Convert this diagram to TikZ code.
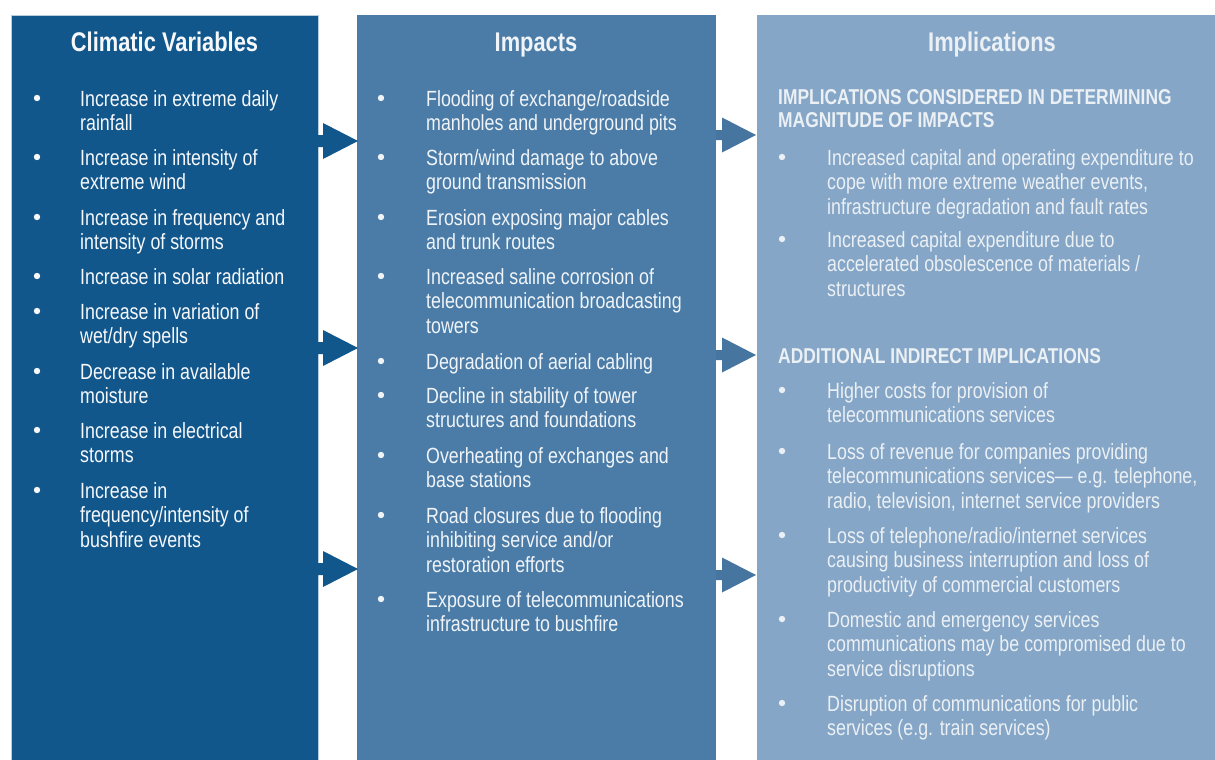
\documentclass[tikz,border=0pt]{standalone}
\usepackage{fontspec}
\setmainfont{Liberation Sans}[FakeStretch=0.81]
\definecolor{cA}{HTML}{12578C}
\definecolor{cB}{HTML}{4A7CA7}
\definecolor{cC}{HTML}{85A6C6}
\definecolor{tA}{HTML}{F6F8FB}
\definecolor{tB}{HTML}{F0F4F8}
\definecolor{tC}{HTML}{EBF0F5}
\newcommand\ml[1]{\vtop{\baselineskip=24.5pt\lineskiplimit=-20pt\let\\\cr\halign{##\hfil\cr#1\crcr}}}
\newcommand\mlh[1]{\vtop{\baselineskip=23.5pt\lineskiplimit=-20pt\let\\\cr\halign{##\hfil\cr#1\crcr}}}
\newcommand\bitem[6]{\fill[#6] (#3,#4-8) circle (3.2pt); \node[txt,text=#6] (#1) at (#2,#4) {\ml{#5}};}
\begin{document}
\begin{tikzpicture}[x=1pt,y=-1pt,
  panel/.style={rectangle, anchor=north west, inner sep=0pt},
  txt/.style={anchor=base west, inner sep=0pt, font=\fontsize{22}{24.5}\selectfont},
  head/.style={anchor=base, inner sep=0pt, font=\bfseries\fontsize{27}{30}\selectfont},
  subhead/.style={anchor=base west, inner sep=0pt, text=tC, font=\bfseries\fontsize{21.5}{23.5}\selectfont},
  arA/.style={fill=cA},
  arB/.style={fill=cB!95!black}]
\useasboundingbox (0,0) rectangle (1215,760);
\fill[white] (0,0) rectangle (1215,760);
% panels
\node[panel, fill=cA, draw=cA!30!white, line width=0.7pt, minimum width=307pt, minimum height=746pt] (p1) at (11,15) {};
\node[panel, fill=cB, minimum width=359pt, minimum height=746pt] (p2) at (357,15) {};
\node[panel, fill=cC, minimum width=460pt, minimum height=746pt] (p3) at (757,15) {};
% headings
\node[head, text=tA] (h1) at (164.5,52) {Climatic Variables};
\node[head, text=tB] (h2) at (536,52) {Impacts};
\node[head, text=tC] (h3) at (992,52) {Implications};
% arrows gap 1
\coordinate (g1a) at (318,141);
\coordinate (g1b) at (318,348);
\coordinate (g1c) at (318,569);
\foreach \c in {g1a,g1b,g1c}{
  \fill[arA] (\c) ++(0,-6) -- ++(5,0) -- ++(0,-12) -- ++(35,18) -- ++(-35,18) -- ++(0,-12) -- ++(-5,0) -- cycle;
}
% arrows gap 2
\coordinate (g2a) at (716,135);
\coordinate (g2b) at (716,355);
\coordinate (g2c) at (716,575);
\foreach \c in {g2a,g2b,g2c}{
  \fill[arB] (\c) ++(0,-5) -- ++(6,0) -- ++(0,-12.5) -- ++(34,17.5) -- ++(-34,17.5) -- ++(0,-12.5) -- ++(-6,0) -- cycle;
}
% column 1
\bitem{a1}{80}{37}{106}{Increase in extreme daily\\rainfall}{tA}
\bitem{a2}{80}{37}{165}{Increase in intensity of\\extreme wind}{tA}
\bitem{a3}{80}{37}{225}{Increase in frequency and\\intensity of storms}{tA}
\bitem{a4}{80}{37}{284}{Increase in solar radiation}{tA}
\bitem{a5}{80}{37}{319}{Increase in variation of\\wet/dry spells}{tA}
\bitem{a6}{80}{37}{379}{Decrease in available\\moisture}{tA}
\bitem{a7}{80}{37}{438}{Increase in electrical\\storms}{tA}
\bitem{a8}{80}{37}{498}{Increase in\\frequency/intensity of\\bushfire events}{tA}
% column 2
\bitem{b1}{426}{381}{106}{Flooding of exchange/roadside\\manholes and underground pits}{tB}
\bitem{b2}{426}{381}{165}{Storm/wind damage to above\\ground transmission}{tB}
\bitem{b3}{426}{381}{225}{Erosion exposing major cables\\and trunk routes}{tB}
\bitem{b4}{426}{381}{284}{Increased saline corrosion of\\telecommunication broadcasting\\towers}{tB}
\bitem{b5}{426}{381}{369}{Degradation of aerial cabling}{tB}
\bitem{b6}{426}{381}{403}{Decline in stability of tower\\structures and foundations}{tB}
\bitem{b7}{426}{381}{463}{Overheating of exchanges and\\base stations}{tB}
\bitem{b8}{426}{381}{523}{Road closures due to flooding\\inhibiting service and/or\\restoration efforts}{tB}
\bitem{b9}{426}{381}{607}{Exposure of telecommunications\\infrastructure to bushfire}{tB}
% column 3
\node[subhead] (s1) at (778,104) {\mlh{IMPLICATIONS CONSIDERED IN DETERMINING\\MAGNITUDE OF IMPACTS}};
\bitem{c1}{827}{782}{165}{Increased capital and operating expenditure to\\cope with more extreme weather events,\\infrastructure degradation and fault rates}{tC}
\bitem{c2}{827}{782}{247}{Increased capital expenditure due to\\accelerated obsolescence of materials /\\structures}{tC}
\node[subhead] (s2) at (778,363) {ADDITIONAL INDIRECT IMPLICATIONS};
\bitem{c3}{827}{782}{398}{Higher costs for provision of\\telecommunications services}{tC}
\bitem{c4}{827}{782}{459}{Loss of revenue for companies providing\\telecommunications services--- e.g. telephone,\\radio, television, internet service providers}{tC}
\bitem{c5}{827}{782}{543}{Loss of telephone/radio/internet services\\causing business interruption and loss of\\productivity of commercial customers}{tC}
\bitem{c6}{827}{782}{627}{Domestic and emergency services\\communications may be compromised due to\\service disruptions}{tC}
\bitem{c7}{827}{782}{711}{Disruption of communications for public\\services (e.g. train services)}{tC}
\end{tikzpicture}
\end{document}
